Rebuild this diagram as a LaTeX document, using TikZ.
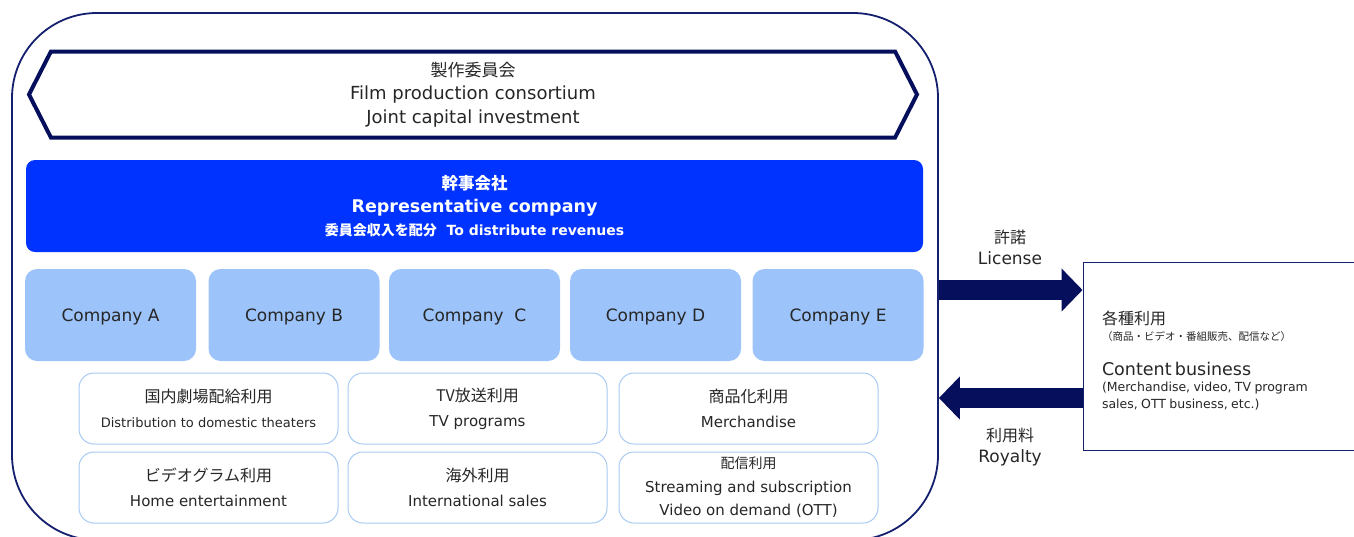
\documentclass[tikz,border=0pt]{standalone}
\usepackage{fontspec}
\setmainfont{DejaVu Sans}
\newfontfamily\jpfont{Noto Sans CJK JP}
\usetikzlibrary{positioning, arrows.meta, shapes.symbols}
\definecolor{color_frame}{HTML}{14206E}
\definecolor{color_arrow}{HTML}{060F5C}
\definecolor{color_rep}{HTML}{0033FF}
\definecolor{color_company}{HTML}{9CC3FA}
\definecolor{color_usage}{HTML}{A8CAF3}
\definecolor{color_text}{HTML}{262626}
\tikzset{
  frame_box/.style={draw=color_frame, line width=1.8pt, rounded corners=85pt, minimum width=926pt, minimum height=527pt},
  consortium_box/.style={shape=signal, signal to=west and east, signal pointer angle=126, draw=color_arrow, line width=4pt, fill=white, minimum width=888pt, minimum height=86pt, align=center, text=color_text, font=\fontsize{18}{23.5}\selectfont},
  rep_box/.style={fill=color_rep, rounded corners=9pt, minimum width=897pt, minimum height=92pt, align=center, text=white, font=\bfseries\fontsize{17.5}{23}\selectfont},
  company_box/.style={fill=color_company, rounded corners=12pt, minimum width=171pt, minimum height=92pt, text depth=0pt, text=color_text, font=\fontsize{17}{20}\selectfont},
  usage_box/.style={draw=color_usage, line width=1pt, rounded corners=15pt, minimum width=259pt, minimum height=71pt, align=center, text=color_text, font=\fontsize{15}{25}\selectfont},
  biz_box/.style={draw=color_frame, line width=1pt, minimum width=280pt, minimum height=188pt, text width=242pt, inner xsep=19pt, align=left, text=color_text},
  flow_arrow/.style={draw=color_arrow, line width=20pt, -{Triangle[length=21pt, width=42pt]}},
  flow_label/.style={align=center, text=color_text, font=\fontsize{17}{21}\selectfont},
}
\begin{document}
\begin{tikzpicture}[x=1pt, y=-1pt]
  \useasboundingbox (0,0) rectangle (1354,536);
  % Consortium frame
  \node[frame_box] (frame) at (475,276.5) {};
  \node[consortium_box] (consortium) at (473,94.5)
    {{\jpfont\fontsize{17}{20}\selectfont 製作委員会}\\ Film production consortium\\ Joint capital investment};
  % Representative company
  \node[rep_box] (rep) at (474.5,206)
    {{\jpfont\bfseries\fontsize{16.5}{20}\selectfont 幹事会社}\\ Representative company\\
     {\fontsize{14}{18}\selectfont{\jpfont 委員会収入を配分}\ \ To distribute revenues}};
  % Member companies
  \node[company_box] (comp_a) at (110.5,315) {Company A};
  \node[company_box] (comp_b) at (294,315) {Company B};
  \node[company_box] (comp_c) at (474.5,315) {Company~\ C};
  \node[company_box] (comp_d) at (655.5,315) {Company D};
  \node[company_box] (comp_e) at (838,315) {Company E};
  % Usage rights
  \node[usage_box] (use_theater) at (208.5,408.5)
    {{\jpfont\fontsize{16}{20}\selectfont 国内劇場配給利用}\\ {\fontsize{13}{16}\selectfont Distribution to domestic theaters}};
  \node[usage_box] (use_tv) at (477.5,408.5)
    {{\jpfont\fontsize{16}{20}\selectfont TV放送利用}\\ TV programs};
  \node[usage_box] (use_merch) at (748.5,408.5)
    {{\jpfont\fontsize{16}{20}\selectfont 商品化利用}\\ Merchandise};
  \node[usage_box] (use_video) at (208.5,487.5)
    {{\jpfont\fontsize{16}{20}\selectfont ビデオグラム利用}\\ Home entertainment};
  \node[usage_box] (use_intl) at (477.5,487.5)
    {{\jpfont\fontsize{16}{20}\selectfont 海外利用}\\ International sales};
  \node[usage_box, font=\fontsize{15}{23.5}\selectfont] (use_ott) at (748.5,487.5)
    {{\jpfont\fontsize{14}{18}\selectfont 配信利用}\\ Streaming and subscription\\ Video on demand (OTT)};
  % Content business
  \node[biz_box] (biz) at (1223,356)
    {{\jpfont\fontsize{16}{18}\selectfont\rule{0pt}{22pt}各種利用\par}
     {\jpfont\fontsize{10.5}{16}\selectfont （商品・ビデオ・番組販売、配信など）\par}
     {\fontsize{17.5}{35}\selectfont Content business\par}
     {\fontsize{12.5}{16.5}\selectfont (Merchandise, video, TV program\\ sales, OTT business, etc.)\par}};
  % License and royalty flows
  \coordinate (license_level) at (0,290);
  \coordinate (royalty_level) at (0,398);
  \draw[flow_arrow] (frame.east |- license_level) -- (biz.west |- license_level);
  \draw[flow_arrow] (biz.west |- royalty_level) -- (frame.east |- royalty_level);
  \node[flow_label] (license) at (1010,247) {{\jpfont\fontsize{16}{20}\selectfont 許諾}\\ License};
  \node[flow_label] (royalty) at (1010,447) {{\jpfont\fontsize{16}{20}\selectfont 利用料}\\ Royalty};
\end{tikzpicture}
\end{document}
